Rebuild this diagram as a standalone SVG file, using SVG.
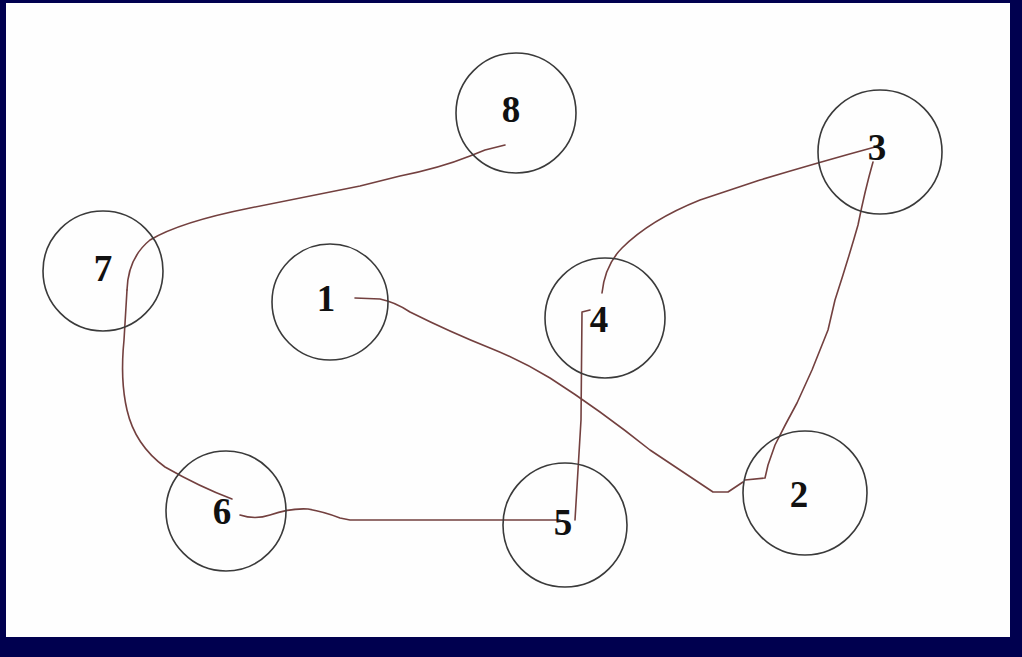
<svg xmlns="http://www.w3.org/2000/svg" width="1022" height="657" viewBox="0 0 1022 657">
<style>
.node circle{fill:none;stroke:#3a3a3a;stroke-width:1.6}
.node text{font-family:"Liberation Serif","Times New Roman",serif;font-weight:bold;font-size:37px;fill:#111;text-anchor:middle;dominant-baseline:central}
.edge{fill:none;stroke:#73403f;stroke-width:1.6;stroke-linejoin:round;stroke-linecap:round}
</style>
<rect x="0" y="0" width="1022" height="657" fill="#00004f"/>
<rect x="6" y="3" width="1004" height="634" fill="#fefefe"/>
<g id="connectors">
<path class="edge" d="M505 145 L485 150 L470 156 Q440 168 400 176 L360 186 Q300 198 250 208 Q180 222 150 240 Q128 258 127 290"/>
<path class="edge" d="M127 290 L124 340 Q120 380 127 410 Q135 445 165 467 Q200 487 232 499"/>
<path class="edge" d="M240 515 Q255 520 270 515 Q290 508 308 509 Q325 512 340 518 L350 520 L560 520"/>
<path class="edge" d="M575 520 L578 470 L581 420 L582 312 L590 310"/>
<path class="edge" d="M602 293 Q605 265 622 248 Q650 220 700 200 L760 180 Q820 162 875 147"/>
<path class="edge" d="M355 298 L380 299 Q395 302 410 312 Q450 332 490 348 Q520 360 550 378 Q600 410 650 450 L713 492 L728 492 L743 482"/>
<path class="edge" d="M873 162 Q865 190 858 225 Q848 260 835 300 L828 330 Q820 350 812 370 L797 403 Q785 425 775 445 L768 465 L765 478 L745 480"/>
</g>
<g id="node8" class="node"><circle cx="516" cy="113" r="60"/><text x="511" y="109">8</text></g>
<g id="node3" class="node"><circle cx="880" cy="152" r="62"/><text x="877" y="147">3</text></g>
<g id="node7" class="node"><circle cx="103" cy="271" r="60"/><text x="103" y="268">7</text></g>
<g id="node1" class="node"><circle cx="330" cy="302" r="58"/><text x="326" y="298">1</text></g>
<g id="node4" class="node"><circle cx="605" cy="318" r="60"/><text x="599" y="319">4</text></g>
<g id="node6" class="node"><circle cx="226" cy="511" r="60"/><text x="222" y="511">6</text></g>
<g id="node5" class="node"><circle cx="565" cy="525" r="62"/><text x="563" y="522">5</text></g>
<g id="node2" class="node"><circle cx="805" cy="493" r="62"/><text x="799" y="494">2</text></g>
</svg>
